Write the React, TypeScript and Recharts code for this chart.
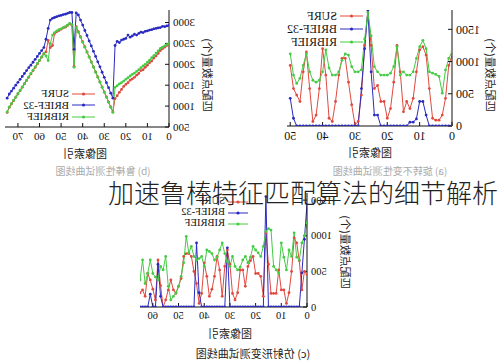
import { LineChart, Line, XAxis, YAxis, Legend } from "recharts"

// (b) robustness test, image index 0..75
const surfB = [
  2480, 2450, 2410, 2370, 2330, 2260, 2200, 2150, 2080, 2040,
  1980, 1930, 1870, 1850, 1780, 1740, 1690, 1650, 1620, 1560,
  1520, 1470, 1400, 1330, 1250, 1180, 860, 980, 1100, 1220,
  1340, 1460, 1580, 1700, 1820, 1940, 2060, 2180, 2300, 2420,
  2540, 2660, 2780, 2900, 1950, 2940, 2970, 2930, 2890, 2870,
  2840, 2810, 2780, 2740, 2450, 2400, 2570, 2300, 2250, 2170,
  2090, 2010, 1930, 1850, 1770, 1690, 1610, 1530, 1450, 1370,
  1290, 1210, 1130, 1050, 970, 850,
]
const briefB = [
  2930, 2920, 2900, 2910, 2880, 2870, 2860, 2850, 2830, 2820,
  2800, 2790, 2760, 2770, 2740, 2700, 2720, 2680, 2650, 2700,
  2620, 2600, 2580, 2520, 2550, 2450, 1190, 1310, 1440, 1560,
  1690, 1810, 1940, 2060, 2190, 2310, 2440, 2560, 2690, 2810,
  2940, 3060, 3180, 3230, 2360, 3240, 3240, 3220, 3200, 3190,
  3170, 3160, 3140, 3120, 3100, 3060, 2860, 2600, 2400, 2330,
  2260, 2190, 2120, 2050, 1980, 1920, 1850, 1780, 1710, 1640,
  1570, 1500, 1430, 1360, 1290, 1190,
]
const ribriefB = [
  2500, 2470, 2440, 2410, 2380, 2320, 2270, 2210, 2160, 2100,
  2050, 2000, 1960, 1920, 1870, 1830, 1790, 1760, 1720, 1680,
  1640, 1600, 1560, 1530, 1490, 1450, 850, 970, 1090, 1210,
  1330, 1450, 1570, 1690, 1810, 1930, 2050, 2170, 2290, 2410,
  2530, 2650, 2770, 2880, 1930, 2950, 2980, 2940, 2900, 2880,
  2850, 2830, 2800, 2760, 2700, 2500, 2090, 2200, 2260, 2180,
  2100, 2020, 1940, 1860, 1780, 1700, 1620, 1540, 1460, 1380,
  1300, 1220, 1140, 1060, 980, 860,
]

// (a) rotation invariance test, image index 0..50
const surfA = [
  1100, 940, 430, 170, 90, 90, 120, 580, 1100, 1230,
  1180, 840, 430, 270, 380, 220, 840, 1250, 680, 270,
  120, 380, 380, 630, 580, 1250, 1800, 1250, 480, 70,
  20, 330, 680, 1050, 1050, 790, 380, 70, 120, 790,
  1200, 580, 170, 70, 580, 1150, 840, 380, 480, 580,
  940,
]
const briefA = [
  0, 0, 0, 0, 0, 0, 0, 0, 170, 380,
  380, 110, 60, 60, 0, 0, 0, 0, 0, 0,
  0, 0, 0, 170, 170, 840, 1800, 1200, 580, 0,
  0, 0, 0, 0, 0, 0, 0, 0, 0, 0,
  0, 0, 0, 0, 0, 0, 0, 0, 0, 120,
  430,
]
const ribriefA = [
  1150, 1050, 870, 510, 770, 800, 820, 840, 1200, 1330,
  1230, 1050, 840, 790, 790, 840, 790, 1230, 920, 820,
  790, 790, 790, 840, 920, 1400, 1760, 1350, 870, 840,
  840, 920, 1100, 1120, 1020, 840, 790, 790, 900, 1180,
  840, 710, 680, 710, 840, 1120, 940, 740, 660, 790,
  1120,
]

// (c) affine deformation test, image index 0..65
const surfC = [
  460, 500, 240, 650, 900, 970, 500, 200, 50, 240,
  240, 520, 190, 190, 190, 600, 1040, 150, 430, 470,
  470, 710, 650, 570, 290, 520, 520, 200, 100, 190,
  600, 800, 570, 150, 520, 710, 430, 250, 150, 430,
  620, 190, 50, 330, 500, 710, 750, 750, 710, 400,
  290, 190, 240, 380, 240, 100, 0, 300, 660, 100,
  250, 380, 470, 150, 240, 200,
]
const briefC = [
  1450, 950, 480, 0, 0, 0, 0, 0, 0, 0,
  0, 0, 0, 0, 0, 0, 1550, 0, 0, 0,
  0, 0, 0, 0, 0, 0, 0, 0, 0, 0,
  0, 830, 0, 0, 0, 0, 0, 0, 0, 0,
  0, 0, 200, 900, 0, 0, 0, 0, 0, 0,
  0, 0, 0, 0, 0, 0, 0, 150, 600, 0,
  0, 180, 0, 0, 0, 0,
]
const ribriefC = [
  1180, 1000, 900, 660, 700, 1040, 710, 800, 520, 700,
  900, 470, 520, 570, 1080, 1100, 1060, 850, 710, 760,
  800, 850, 700, 620, 710, 660, 560, 520, 570, 710,
  570, 640, 750, 900, 800, 700, 660, 750, 780, 800,
  570, 710, 680, 660, 710, 850, 760, 990, 620, 430,
  290, 200, 150, 100, 290, 710, 520, 570, 380, 420,
  470, 660, 470, 330, 660, 380,
]

const SERIES = [
  { key: "surf", name: "SURF", color: "#e04a3f" },
  { key: "brief", name: "BRIEF-32", color: "#2a2ac0" },
  { key: "ribrief", name: "RIBRIEF", color: "#44cc44" },
]

const serif = '"Liberation Serif", "Times New Roman", serif'
const cjk = '"Noto Sans CJK SC", sans-serif'

function build(surf: number[], brief: number[], ribrief: number[]) {
  return surf.map((v, i) => ({ idx: i, surf: v, brief: brief[i], ribrief: ribrief[i] }))
}

function KeyBox({ fontSize, rowH, sampleW }: any) {
  return (
    <div style={{ fontFamily: serif, fontSize, color: "#111", lineHeight: 1 }}>
      {SERIES.map((s) => (
        <div key={s.key} style={{ display: "flex", alignItems: "center", height: rowH }}>
          <svg width={sampleW} height={8} style={{ display: "block" }}>
            <line x1={0} y1={4} x2={sampleW} y2={4} stroke={s.color} strokeWidth={1} />
            <circle cx={sampleW / 2} cy={4} r={1.6} fill={s.color} />
          </svg>
          <span style={{ marginLeft: 3 }}>{s.name}</span>
        </div>
      ))}
    </div>
  )
}

function Panel({ data, box, xDomain, xTicks, yDomain, yTicks, fontSize, legend }: any) {
  const tickStyle = { fill: "#111", fontSize, fontFamily: serif }
  return (
    <div style={{ position: "absolute", left: box.left, top: box.top }}>
      <LineChart width={box.width} height={box.height} data={data} margin={{ top: 10, right: 5, bottom: 0, left: 0 }}>
        <XAxis dataKey="idx" type="number" domain={xDomain} ticks={xTicks} interval={0} height={box.xh} tickSize={-4} tickMargin={9} stroke="#111" tick={tickStyle} allowDataOverflow />
        <XAxis xAxisId="top" orientation="top" type="number" domain={xDomain} ticks={xTicks} interval={0} height={0} tickSize={-4} tick={false} stroke="#111" allowDataOverflow />
        <YAxis type="number" domain={yDomain} ticks={yTicks} interval={0} width={40} tickSize={-4} tickMargin={8} stroke="#111" tick={tickStyle} allowDataOverflow />
        <YAxis yAxisId="right" orientation="right" type="number" domain={yDomain} ticks={yTicks} interval={0} width={0} tickSize={-4} tick={false} stroke="#111" allowDataOverflow />
        <Legend
          align="center"
          verticalAlign="middle"
          wrapperStyle={{ left: legend.x, top: legend.y, width: "auto" }}
          content={() => <KeyBox fontSize={legend.fontSize} rowH={legend.rowH} sampleW={legend.sampleW} />}
        />
        {SERIES.map((s) => (
          <Line
            key={s.key}
            type="linear"
            dataKey={s.key}
            name={s.name}
            stroke={s.color}
            strokeWidth={1}
            dot={{ r: 1.4, fill: s.color, stroke: s.color, strokeWidth: 0 }}
            isAnimationActive={false}
          />
        ))}
      </LineChart>
    </div>
  )
}

function Tag({ x, y, text, size, color = "#222", rotate = false }: any) {
  return (
    <div
      style={{
        position: "absolute",
        left: x,
        top: y,
        transform: `translate(-50%, -50%)${rotate ? " rotate(-90deg)" : ""}`,
        whiteSpace: "nowrap",
        fontFamily: cjk,
        fontSize: size,
        color,
        lineHeight: 1,
      }}
    >
      {text}
    </div>
  )
}

export default function App() {
  const dataB = build(surfB, briefB, ribriefB)
  const dataA = build(surfA, briefA, ribriefA)
  const dataC = build(surfC, briefC, ribriefC)
  const yLabel = "匹配点数量(个)"
  const xLabel = "图像索引"

  return (
    <div style={{ position: "absolute", left: 0, top: 0, width: 499, height: 363, background: "#fff", overflow: "hidden" }}>
      {/* the scanned figure is mirrored left-right */}
      <div style={{ position: "absolute", left: 0, top: 0, width: 499, height: 363, transform: "scaleX(-1)" }}>
        <Panel
          data={dataA}
          box={{ left: 7, top: 0, width: 210, height: 160, xh: 34 }}
          xDomain={[0, 51]}
          xTicks={[0, 10, 20, 30, 40, 50]}
          yDomain={[0, 1800]}
          yTicks={[0, 500, 1000, 1500]}
          fontSize={12}
          legend={{ x: 129, y: 9, fontSize: 12, rowH: 13, sampleW: 23 }}
        />
        <Panel
          data={dataB}
          box={{ left: 290, top: 0, width: 209, height: 160, xh: 33 }}
          xDomain={[0, 76]}
          xTicks={[0, 10, 20, 30, 40, 50, 60, 70]}
          yDomain={[500, 3300]}
          yTicks={[500, 1000, 1500, 2000, 2500, 3000]}
          fontSize={11}
          legend={{ x: 114, y: 88, fontSize: 11, rowH: 11.5, sampleW: 23 }}
        />
        <Panel
          data={dataC}
          box={{ left: 152, top: 183, width: 212, height: 160, xh: 36 }}
          xDomain={[0, 65]}
          xTicks={[0, 10, 20, 30, 40, 50, 60]}
          yDomain={[0, 1600]}
          yTicks={[0, 500, 1000, 1500]}
          fontSize={10.5}
          legend={{ x: 99, y: 13, fontSize: 10.5, rowH: 11, sampleW: 20 }}
        />
        <Tag x={9} y={75} text={yLabel} size={11} rotate />
        <Tag x={292} y={75} text={yLabel} size={11} rotate />
        <Tag x={154} y={252} text={yLabel} size={11} rotate />
        <Tag x={129} y={152} text={xLabel} size={11} />
        <Tag x={414} y={153} text={xLabel} size={11} />
        <Tag x={269} y={333} text={xLabel} size={11} />
        <Tag x={109} y={171} text="(a) 旋转不变性测试曲线图" size={10} color="#aaa" />
        <Tag x={396} y={171} text="(b) 鲁棒性测试曲线图" size={10} color="#aaa" />
        <Tag x={246} y={353} text="(c) 仿射形变测试曲线图" size={11} color="#222" />
      </div>
      <div
        style={{
          position: "absolute",
          left: 108,
          top: 179,
          fontFamily: cjk,
          fontSize: 26,
          fontWeight: 300,
          lineHeight: "26px",
          color: "#222",
          whiteSpace: "nowrap",
        }}
      >
        加速鲁棒特征匹配算法的细节解析
      </div>
    </div>
  )
}
